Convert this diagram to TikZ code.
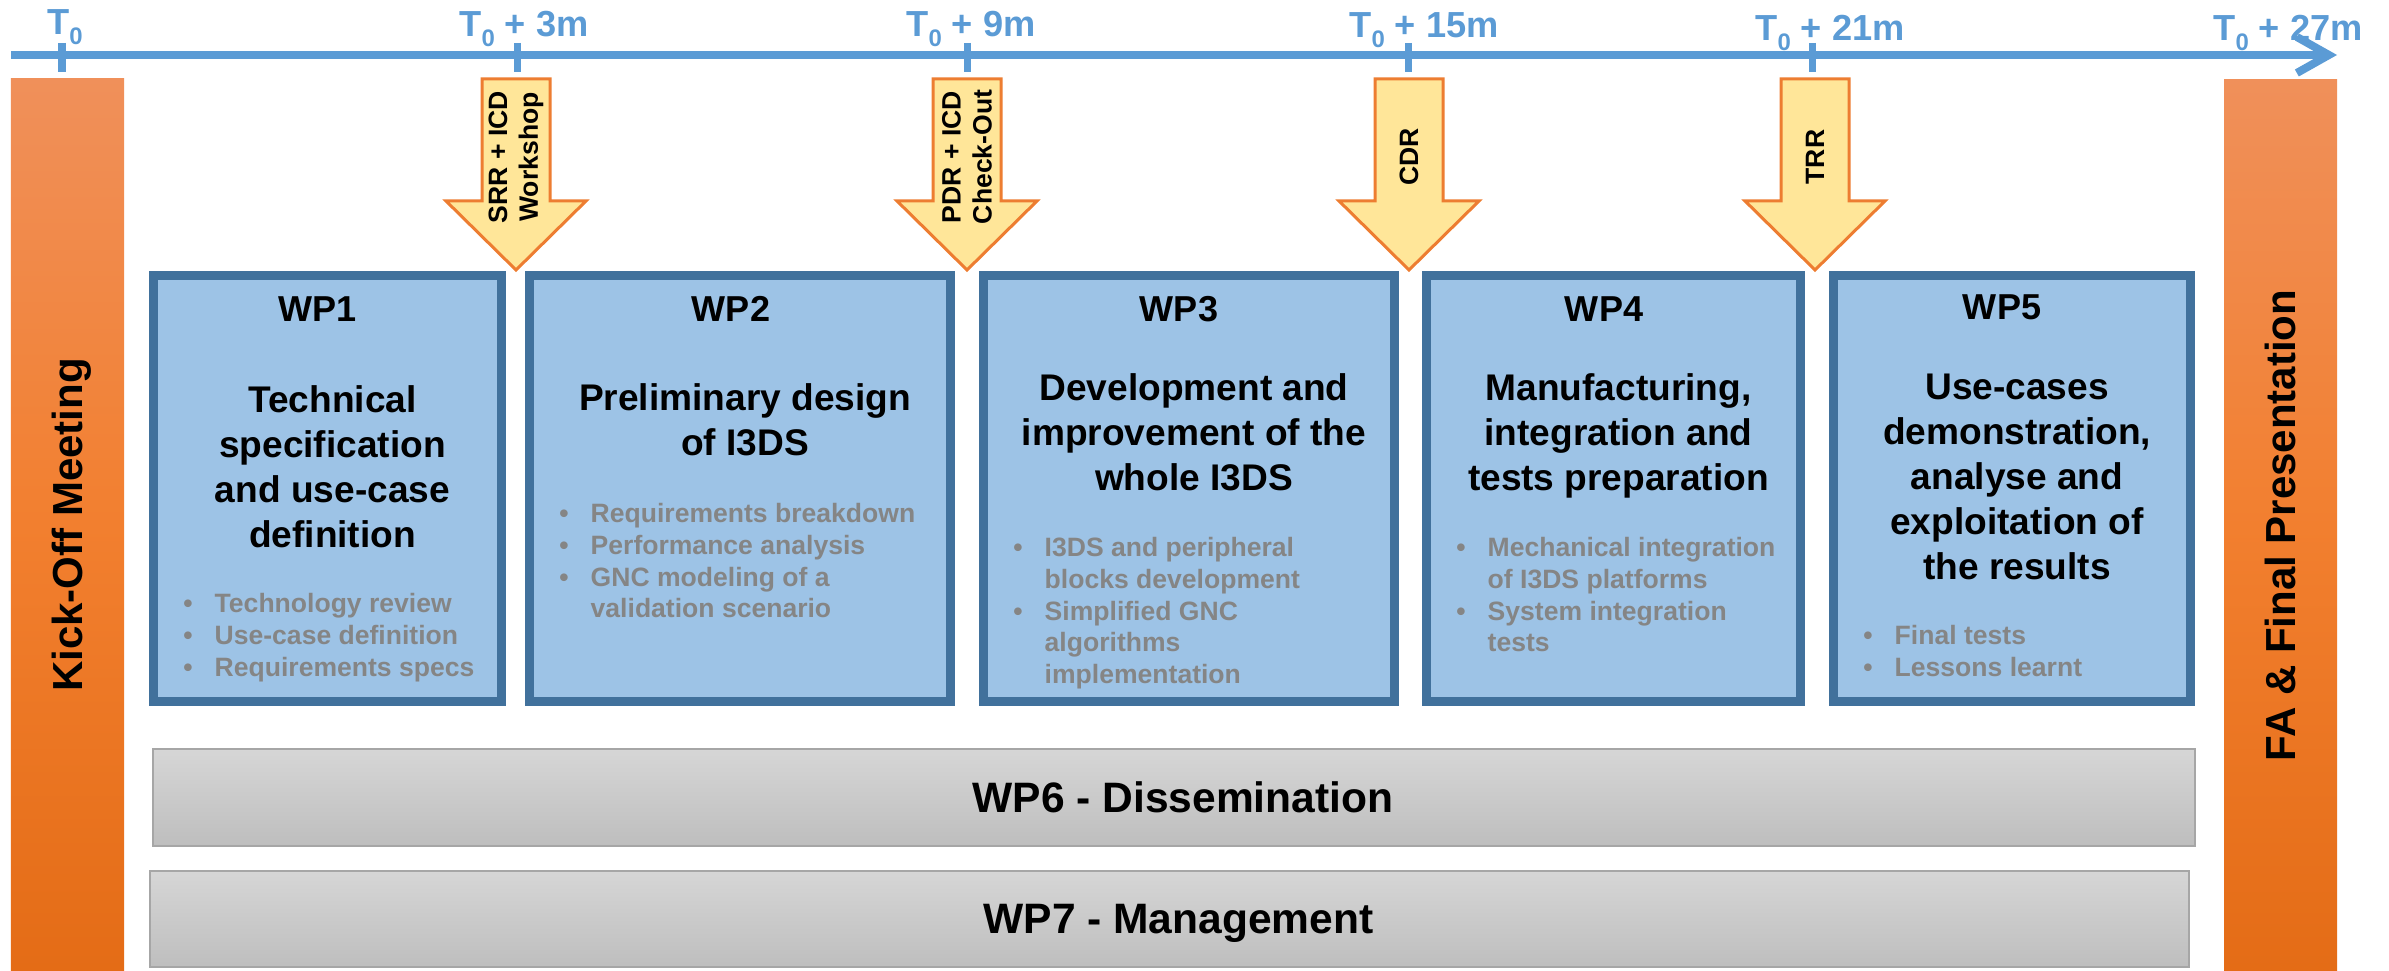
\documentclass[tikz,border=0pt]{standalone}
\usepackage{fontspec}
\setmainfont{Liberation Sans}
\usetikzlibrary{arrows.meta}

\definecolor{axisblue}{HTML}{5B9BD5}
\definecolor{wpfill}{HTML}{9DC3E6}
\definecolor{wpedge}{HTML}{41719C}
\definecolor{notegray}{HTML}{858585}
\definecolor{msfill}{HTML}{FFE699}
\definecolor{msedge}{HTML}{ED7D31}
\definecolor{barTop}{HTML}{F0905A}
\definecolor{barMid}{HTML}{F27F2F}
\definecolor{barBot}{HTML}{E46C16}
\definecolor{greyTop}{HTML}{D6D6D6}
\definecolor{greyBot}{HTML}{BEBEBE}
\definecolor{greyEdge}{HTML}{A6A6A6}

% T with subscript zero for the time axis
\newcommand\Tzero{T\raisebox{-0.27em}{\fontsize{6.8pt}{7pt}\selectfont 0}}
% hanging bullet for the task lists
\newcommand\itm{\llap{\textbullet\hspace{6.3pt}}}

\begin{document}
\begin{tikzpicture}[x=0.01cm, y=-0.01cm,
  axisline/.style={draw=axisblue, line width=0.08cm,
    -{Straight Barb[length=0.32cm, width=0.36cm]}},
  tickmark/.style={draw=axisblue, line width=0.07cm},
  axislabel/.style={anchor=base, inner sep=0pt, text=axisblue,
    font=\bfseries\fontsize{10.3pt}{12pt}\selectfont},
  phasebar/.style={draw=none, top color=barTop, bottom color=barBot,
    middle color=barMid, inner sep=0pt, outer sep=0pt},
  phaselabel/.style={rotate=90, inner sep=0pt, text depth=0pt,
    font=\bfseries\fontsize{11.95pt}{14pt}\selectfont},
  msarrow/.style={draw=msedge, fill=msfill, line width=0.03cm, line join=miter},
  mslabel/.style={rotate=90, align=center, inner sep=0pt,
    font=\bfseries\fontsize{7.55pt}{8.8pt}\selectfont},
  wpbox/.style={draw=wpedge, fill=wpfill, line width=0.09cm,
    minimum height=4.26cm, inner sep=0pt, outer sep=0pt},
  wplabel/.style={anchor=base, inner sep=0pt,
    font=\bfseries\fontsize{10.25pt}{12pt}\selectfont},
  wptitle/.style={anchor=north, align=center, inner sep=0pt,
    font=\bfseries\fontsize{10.55pt}{12.8pt}\selectfont},
  wpnotes/.style={anchor=north west, align=left, inner sep=0pt, text=notegray,
    font=\bfseries\fontsize{7.55pt}{9pt}\selectfont},
  greybox/.style={draw=greyEdge, line width=0.02cm, top color=greyTop,
    bottom color=greyBot, inner sep=0pt, text depth=0pt,
    font=\bfseries\fontsize{12.1pt}{14pt}\selectfont}]

\useasboundingbox (0,0) rectangle (2389,971);

% time axis
\coordinate (tlstart) at (11,55);
\coordinate (tlend) at (2337,55);
\draw[axisline] (tlstart) -- (tlend);
\foreach \tx in {62,517,967,1408,1812}
  \draw[tickmark] (\tx,43) -- (\tx,72);

\node[axislabel] (t0)  at (65,35)   {\Tzero};
\node[axislabel] (t3)  at (524,37)  {\Tzero{} + 3m};
\node[axislabel] (t9)  at (971,37)  {\Tzero{} + 9m};
\node[axislabel] (t15) at (1424,38) {\Tzero{} + 15m};
\node[axislabel] (t21) at (1830,41) {\Tzero{} + 21m};
\node[axislabel] (t27) at (2288,41) {\Tzero{} + 27m};

% opening and closing phases
\node[phasebar, minimum width=1.13cm, minimum height=8.92cm] (kickoff) at (67.5,525) {};
\node[phaselabel] (kickofftext) at (kickoff.center) {Kick-Off Meeting};
\node[phasebar, minimum width=1.13cm, minimum height=8.91cm] (final) at (2280.5,525.5) {};
\node[phaselabel] (finaltext) at (final.center) {FA \& Final Presentation};

% review milestones
\foreach \cx/\nm/\txt in {516/srr/{SRR + ICD\\Workshop},
                          967/pdr/{PDR + ICD\\Check-Out},
                          1409/cdr/CDR,
                          1815/trr/TRR} {
  \draw[msarrow] (\cx-34,79) -- (\cx+34,79) -- (\cx+34,201) -- (\cx+70,201)
    -- (\cx,270) -- (\cx-70,201) -- (\cx-34,201) -- cycle;
  \node[mslabel] (\nm) at (\cx,157) {\txt};
}

% work packages
\node[wpbox, minimum width=3.48cm] (wp1) at (327.5,488.5) {};
\node[wpbox, minimum width=4.21cm] (wp2) at (740,488.5) {};
\node[wpbox, minimum width=4.11cm] (wp3) at (1189,488.5) {};
\node[wpbox, minimum width=3.74cm] (wp4) at (1613.5,488.5) {};
\node[wpbox, minimum width=3.57cm] (wp5) at (2012,488.5) {};

\node[wplabel] (wp1id) at (317.5,322) {WP1};
\node[wplabel] (wp2id) at (731,322)   {WP2};
\node[wplabel] (wp3id) at (1179,322)  {WP3};
\node[wplabel] (wp4id) at (1604,322)  {WP4};
\node[wplabel] (wp5id) at (2002,320)  {WP5};

\node[wptitle] (wp1title) at (332.5,385) {Technical\\specification\\and use-case\\definition};
\node[wptitle] (wp2title) at (745,383)   {Preliminary design\\of I3DS};
\node[wptitle] (wp3title) at (1194,373)  {Development and\\improvement of the\\whole I3DS};
\node[wptitle] (wp4title) at (1618.5,373) {Manufacturing,\\integration and\\tests preparation};
\node[wptitle] (wp5title) at (2017,373)  {Use-cases\\demonstration,\\analyse and\\exploitation of\\the results};

\node[wpnotes] (wp1notes) at (214,593)
  {\itm Technology review\\\itm Use-case definition\\\itm Requirements specs};
\node[wpnotes] (wp2notes) at (590,503)
  {\itm Requirements breakdown\\\itm Performance analysis\\\itm GNC modeling of a\\validation scenario};
\node[wpnotes] (wp3notes) at (1044,537)
  {\itm I3DS and peripheral\\blocks development\\\itm Simplified GNC\\algorithms\\implementation};
\node[wpnotes] (wp4notes) at (1487,537)
  {\itm Mechanical integration\\of I3DS platforms\\\itm System integration\\tests};
\node[wpnotes] (wp5notes) at (1894,625)
  {\itm Final tests\\\itm Lessons learnt};

% transversal work packages
\node[greybox, minimum width=20.40cm, minimum height=0.97cm] (wp6) at (1174,797.5)
  {\hspace*{0.18cm}WP6 - Dissemination};
\node[greybox, minimum width=20.37cm, minimum height=0.96cm] (wp7) at (1169.5,919)
  {\hspace*{0.18cm}WP7 - Management};
\end{tikzpicture}
\end{document}
